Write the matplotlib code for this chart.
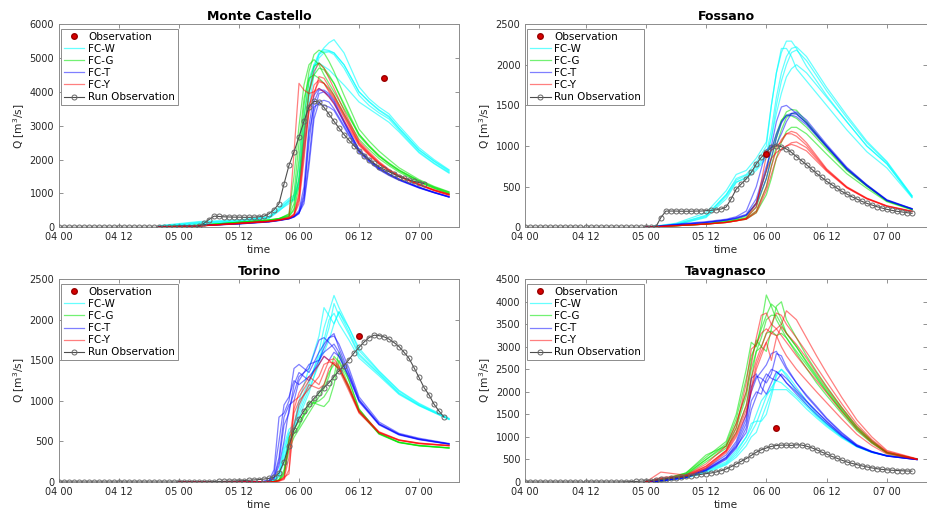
import matplotlib.pyplot as plt
import numpy as np

# x axis: hours counted from "04 00"
tick_hours = [0, 12, 24, 36, 48, 60, 72]
tick_labels = ["04 00", "04 12", "05 00", "05 12", "06 00", "06 12", "07 00"]

# ---------------- Monte Castello ----------------
mc_obs_point = (65, 4400)
mc_run_obs = [0] * 28 + [30, 120, 230, 330, 320, 310, 305, 300, 300, 295, 295, 300, 310,
                         330, 400, 520, 700, 1280, 1830, 2230, 2670, 3130, 3560, 3720, 3700,
                         3540, 3340, 3130, 2930, 2740, 2570, 2410, 2260, 2120, 2000, 1890,
                         1790, 1710, 1640, 1570, 1500, 1450, 1400, 1360, 1320, 1290]
mc_hours = [20, 28, 36, 42, 44, 46, 47, 48, 49, 50, 51, 52, 53, 54,
            55, 57, 60, 62, 64, 66, 68, 72, 75, 78]
mc_fcw = [
    [40, 150, 200, 300, 550, 800, 900, 1400, 2800, 4000, 4700, 5100, 5300, 5450,
     5540, 5150, 4150, 3800, 3550, 3350, 3000, 2350, 2000, 1700],
    [30, 120, 180, 280, 500, 700, 800, 1300, 2600, 3900, 4700, 5100, 5200, 5200,
     5150, 4800, 4000, 3700, 3450, 3250, 2920, 2280, 1950, 1650],
    [20, 100, 160, 260, 480, 750, 850, 1200, 2300, 3600, 4500, 5000, 5150, 5180,
     5100, 4700, 3900, 3600, 3380, 3200, 2870, 2230, 1900, 1620],
    [50, 170, 220, 320, 600, 850, 950, 1800, 3300, 4400, 4800, 4850, 4750, 4650,
     4500, 4200, 3700, 3500, 3300, 3100, 2820, 2200, 1880, 1600],
    [30, 130, 190, 300, 520, 780, 820, 1400, 2800, 4000, 4800, 5150, 5250, 5220,
     5150, 4800, 4000, 3720, 3470, 3280, 2930, 2290, 1960, 1680],
]
mc_fcg = [
    [10, 60, 150, 200, 250, 400, 1500, 3000, 4200, 4800, 4950, 4800, 4500, 4250,
     4000, 3500, 2750, 2400, 2100, 1880, 1680, 1380, 1190, 1040],
    [10, 60, 150, 220, 260, 350, 700, 2000, 3600, 4600, 5100, 5230, 5150, 4900,
     4600, 3900, 2900, 2550, 2250, 2000, 1760, 1410, 1210, 1050],
    [10, 50, 130, 200, 240, 320, 500, 1200, 2800, 4000, 4500, 4700, 4650, 4450,
     4250, 3650, 2750, 2420, 2130, 1900, 1700, 1370, 1180, 1020],
    [10, 50, 140, 210, 250, 330, 550, 1500, 3200, 4300, 4750, 4850, 4700, 4500,
     4250, 3600, 2700, 2380, 2100, 1870, 1670, 1350, 1160, 1000],
    [10, 60, 150, 220, 260, 380, 1000, 2500, 3800, 4400, 4500, 4400, 4250, 4100,
     3900, 3350, 2600, 2300, 2030, 1820, 1630, 1330, 1150, 990],
]
mc_fct = [
    [5, 50, 110, 170, 210, 260, 320, 450, 1000, 2500, 3700, 4050, 4050, 3950,
     3750, 3150, 2300, 2020, 1760, 1580, 1430, 1190, 1040, 910],
    [5, 50, 110, 170, 210, 260, 320, 420, 800, 2000, 3400, 3950, 4000, 3900,
     3700, 3100, 2280, 2000, 1750, 1570, 1420, 1180, 1030, 900],
    [5, 50, 100, 160, 200, 250, 300, 400, 900, 2800, 3550, 3650, 3600, 3550,
     3450, 2950, 2200, 1940, 1700, 1530, 1390, 1160, 1020, 890],
    [5, 50, 110, 170, 210, 260, 330, 500, 1200, 3000, 3900, 4100, 4000, 3850,
     3650, 3100, 2260, 1980, 1740, 1560, 1410, 1175, 1030, 900],
    [5, 50, 100, 160, 200, 250, 310, 430, 700, 1800, 3200, 3700, 3750, 3700,
     3500, 3000, 2240, 1960, 1720, 1550, 1400, 1170, 1025, 895],
]
mc_fcy = [
    [5, 40, 120, 180, 220, 300, 2200, 4250, 4050, 3950, 4000, 4300, 4250, 4000,
     3800, 3250, 2450, 2150, 1880, 1670, 1500, 1260, 1100, 970],
    [5, 40, 120, 180, 220, 280, 400, 1000, 2600, 4000, 4600, 4850, 4700, 4400,
     4100, 3450, 2550, 2230, 1940, 1710, 1530, 1280, 1110, 980],
    [5, 40, 110, 170, 210, 260, 350, 700, 2000, 3500, 4200, 4350, 4250, 4050,
     3850, 3300, 2480, 2170, 1900, 1680, 1510, 1260, 1090, 950],
    [5, 40, 110, 170, 210, 270, 380, 900, 2400, 3600, 4000, 4100, 4000, 3850,
     3650, 3150, 2420, 2130, 1870, 1660, 1490, 1250, 1085, 950],
    [5, 40, 120, 180, 220, 280, 360, 800, 2200, 3400, 3900, 4450, 4400, 4150,
     3900, 3350, 2500, 2190, 1910, 1690, 1520, 1270, 1100, 970],
]

# ---------------- Fossano ----------------
fo_obs_point = (48, 900)
fo_run_obs = [0] * 26 + [5, 120, 200, 200, 200, 198, 198, 198, 200, 200, 205, 210, 215, 225,
                         250, 350, 470, 533, 595, 676, 779, 861, 922, 984, 1004, 992, 963, 922,
                         869, 820, 770, 717, 664, 615, 566, 525, 484, 443, 410, 377, 348, 320,
                         295, 275, 254, 238, 221, 209, 197, 189, 180, 172]
fo_hours = [24, 30, 36, 40, 42, 44, 46, 48, 49, 50, 51, 52, 53, 54, 56, 60, 64, 68, 72, 77]
fo_fcw = [
    [0, 40, 150, 400, 600, 650, 800, 1000, 1500, 1900, 2200, 2200, 2100, 1950, 1800, 1500, 1200, 930, 730, 365],
    [0, 50, 180, 450, 650, 700, 850, 1050, 1500, 1900, 2150, 2290, 2290, 2200, 1980, 1620, 1300, 1000, 780, 380],
    [0, 30, 120, 350, 550, 620, 750, 900, 1200, 1600, 1900, 2100, 2200, 2220, 2100, 1720, 1380, 1060, 810, 390],
    [0, 30, 130, 380, 560, 600, 700, 850, 1100, 1500, 1800, 2000, 2150, 2180, 2050, 1680, 1350, 1040, 800, 385],
    [0, 40, 140, 400, 580, 640, 720, 880, 1100, 1400, 1650, 1850, 1950, 2000, 1900, 1600, 1300, 1000, 780, 370],
]
fo_fcg = [
    [0, 20, 40, 70, 90, 120, 250, 600, 850, 1100, 1300, 1420, 1450, 1440, 1300, 1000, 720, 520, 330, 225],
    [0, 20, 40, 70, 90, 110, 200, 500, 750, 1000, 1200, 1350, 1400, 1400, 1280, 980, 710, 510, 325, 220],
    [0, 20, 40, 60, 80, 100, 180, 400, 600, 850, 1050, 1180, 1230, 1230, 1150, 900, 660, 480, 315, 215],
    [0, 20, 45, 80, 100, 140, 300, 700, 950, 1150, 1320, 1380, 1370, 1340, 1230, 960, 700, 505, 325, 220],
]
fo_fct = [
    [0, 30, 60, 90, 110, 150, 300, 700, 1000, 1300, 1480, 1500, 1450, 1400, 1280, 1000, 730, 520, 335, 230],
    [0, 40, 70, 100, 130, 200, 500, 950, 1000, 1020, 1150, 1300, 1400, 1420, 1320, 1020, 740, 525, 340, 230],
    [0, 30, 60, 90, 110, 150, 280, 600, 850, 1100, 1280, 1380, 1400, 1390, 1290, 1000, 720, 515, 330, 225],
    [0, 30, 60, 90, 120, 160, 350, 750, 950, 1150, 1300, 1370, 1380, 1360, 1260, 990, 715, 510, 330, 225],
]
fo_fcy = [
    [0, 20, 40, 60, 80, 110, 250, 880, 950, 1000, 1050, 1150, 1180, 1160, 1040, 720, 500, 360, 265, 200],
    [0, 20, 40, 60, 80, 100, 200, 500, 750, 950, 1080, 1150, 1150, 1120, 1010, 710, 495, 355, 262, 195],
    [0, 20, 40, 60, 80, 100, 180, 450, 650, 850, 960, 1000, 1040, 1050, 980, 700, 490, 352, 260, 195],
    [0, 20, 40, 60, 80, 110, 300, 700, 850, 920, 960, 1000, 1020, 1000, 940, 690, 485, 350, 258, 192],
]

# ---------------- Torino ----------------
to_obs_point = (60, 1800)
to_run_obs = [0] * 30 + [3, 5, 7, 9, 11, 13, 15, 18, 21, 25, 30, 36, 45, 60, 110, 250, 450, 640,
                         780, 880, 960, 1030, 1100, 1165, 1225, 1300, 1370, 1435, 1510, 1590,
                         1660, 1725, 1780, 1810, 1805, 1790, 1762, 1720, 1670, 1600, 1525, 1410,
                         1290, 1165, 1075, 960, 875, 800]
to_hours = [24, 40, 42, 43, 44, 45, 46, 47, 48, 50, 52, 53, 54, 55, 56, 58, 60, 64, 68, 72, 78]
to_fcw = [
    [0, 0, 5, 20, 100, 400, 600, 650, 900, 1200, 1600, 1900, 2100, 2300, 2150, 1900, 1620, 1360, 1120, 960, 780],
    [0, 0, 5, 15, 80, 300, 500, 700, 1000, 1400, 1800, 2150, 2050, 1950, 2100, 1850, 1580, 1340, 1100, 950, 775],
    [0, 0, 5, 20, 120, 450, 650, 700, 850, 1150, 1450, 1700, 1900, 2200, 2050, 1820, 1560, 1330, 1090, 945, 775],
    [0, 0, 5, 10, 60, 250, 550, 650, 800, 1100, 1500, 1750, 2000, 2080, 1950, 1750, 1530, 1310, 1080, 940, 770],
    [0, 0, 5, 15, 90, 350, 600, 700, 950, 1250, 1550, 1600, 1750, 1950, 2100, 1900, 1650, 1370, 1130, 970, 785],
]
to_fcg = [
    [0, 0, 0, 5, 20, 100, 500, 600, 700, 1000, 950, 930, 1000, 1200, 1500, 1250, 900, 600, 490, 450, 420],
    [0, 0, 0, 5, 30, 150, 550, 650, 750, 900, 1100, 1200, 1350, 1450, 1400, 1150, 870, 590, 485, 445, 418],
    [0, 0, 0, 5, 20, 80, 400, 550, 650, 850, 1050, 1150, 1300, 1550, 1480, 1180, 880, 595, 488, 448, 420],
    [0, 0, 0, 5, 25, 120, 450, 600, 680, 950, 1000, 1050, 1150, 1300, 1600, 1250, 900, 600, 490, 450, 422],
]
to_fct = [
    [0, 0, 20, 150, 800, 850, 1000, 1400, 1450, 1350, 1600, 1700, 1780, 1800, 1700, 1400, 1050, 740, 600, 540, 475],
    [0, 0, 10, 60, 300, 800, 950, 1000, 1250, 1450, 1500, 1650, 1780, 1830, 1650, 1350, 1020, 720, 590, 530, 470],
    [0, 0, 10, 40, 200, 500, 900, 1100, 1300, 1400, 1750, 1780, 1720, 1650, 1550, 1300, 1000, 710, 585, 525, 468],
    [0, 0, 10, 50, 250, 700, 850, 1200, 1350, 1250, 1500, 1600, 1650, 1700, 1600, 1330, 1010, 715, 588, 528, 470],
    [0, 0, 15, 100, 500, 950, 1050, 1250, 1200, 1300, 1450, 1550, 1500, 1600, 1550, 1290, 990, 705, 580, 522, 465],
]
to_fcy = [
    [0, 0, 0, 5, 20, 60, 100, 1000, 1050, 1250, 1450, 1550, 1500, 1450, 1400, 1180, 880, 620, 520, 480, 450],
    [0, 0, 0, 5, 15, 50, 500, 900, 1100, 1300, 1200, 1350, 1500, 1520, 1430, 1150, 860, 610, 515, 475, 448],
    [0, 0, 0, 5, 15, 40, 300, 850, 1000, 1150, 1300, 1450, 1480, 1460, 1380, 1120, 850, 605, 512, 472, 445],
    [0, 0, 0, 5, 10, 30, 150, 700, 950, 1200, 1150, 1200, 1400, 1480, 1420, 1160, 870, 615, 518, 478, 450],
]

# ---------------- Tavagnasco ----------------
ta_obs_point = (50, 1200)
ta_run_obs = [0] * 19 + [2, 5, 8, 12, 18, 25, 32, 45, 60, 72, 85, 98, 110, 122, 138, 155, 170,
                         185, 200, 222, 250, 290, 340, 400, 460, 520, 590, 660, 715, 755, 790,
                         810, 818, 818, 812, 825, 820, 795, 760, 715, 665, 620, 570, 530, 485,
                         445, 415, 385, 358, 335, 313, 295, 280, 270, 261, 255, 249, 244, 240]
ta_hours = [24, 27, 32, 36, 40, 42, 44, 45, 46, 47, 48, 49, 50, 51,
            52, 54, 56, 58, 60, 63, 66, 69, 72, 78]
ta_fcw = [
    [0, 30, 120, 250, 450, 700, 1000, 1300, 1350, 1350, 1500, 1900, 2350, 2500,
     2400, 2100, 1800, 1520, 1300, 1020, 800, 670, 590, 510],
    [0, 25, 100, 220, 400, 600, 900, 1100, 1300, 1600, 1900, 2100, 2250, 2200,
     2100, 1900, 1680, 1460, 1260, 1000, 790, 660, 585, 508],
    [0, 25, 110, 240, 420, 650, 1000, 1200, 1500, 1800, 1950, 2050, 2050, 2050,
     2050, 1850, 1620, 1420, 1230, 980, 780, 655, 582, 506],
    [0, 20, 90, 200, 380, 550, 800, 1000, 1100, 1400, 1700, 2000, 2400, 2500,
     2350, 2000, 1720, 1480, 1280, 1010, 795, 665, 586, 508],
]
ta_fcg = [
    [0, 50, 200, 550, 900, 1500, 2500, 3100, 3000, 3500, 4150, 3900, 3600, 3400,
     3200, 2900, 2600, 2300, 2000, 1580, 1180, 880, 650, 505],
    [0, 40, 180, 500, 850, 1400, 2300, 2800, 3050, 3400, 3700, 3950, 3850, 3600,
     3300, 3000, 2680, 2370, 2060, 1620, 1210, 900, 655, 505],
    [0, 40, 200, 600, 800, 1200, 1900, 2500, 2900, 3200, 3600, 3700, 3700, 3500,
     3300, 3000, 2650, 2330, 2020, 1590, 1190, 885, 650, 505],
    [0, 30, 150, 450, 750, 1100, 1700, 2300, 2900, 3000, 3300, 3350, 3250, 3300,
     3200, 2850, 2520, 2200, 1920, 1520, 1140, 860, 640, 500],
    [0, 30, 160, 500, 800, 1300, 2000, 2700, 3150, 3000, 2900, 3400, 3900, 4000,
     3600, 3200, 2800, 2450, 2120, 1660, 1240, 920, 660, 508],
]
ta_fct = [
    [0, 30, 120, 300, 600, 900, 1500, 2000, 2300, 2450, 2600, 2850, 2900, 2700,
     2500, 2200, 1930, 1680, 1420, 1100, 830, 680, 585, 500],
    [0, 30, 100, 280, 550, 800, 1300, 2100, 2350, 2300, 2200, 2400, 2850, 2800,
     2550, 2200, 1900, 1650, 1400, 1080, 820, 675, 580, 498],
    [0, 20, 90, 250, 500, 750, 1200, 1800, 2000, 1950, 2300, 2500, 2450, 2350,
     2200, 2000, 1780, 1560, 1350, 1050, 805, 668, 578, 498],
    [0, 20, 100, 260, 520, 780, 1100, 1600, 1900, 2200, 2400, 2300, 2250, 2400,
     2300, 2050, 1800, 1570, 1340, 1040, 800, 665, 576, 497],
    [0, 25, 110, 270, 540, 850, 1400, 2300, 2400, 2100, 1950, 2200, 2450, 2350,
     2200, 1950, 1720, 1500, 1300, 1020, 790, 660, 574, 497],
]
ta_fcy = [
    [0, 220, 150, 350, 700, 1200, 2200, 2950, 3050, 3300, 3400, 3300, 3250, 3000,
     2800, 2500, 2250, 2000, 1760, 1400, 1060, 810, 620, 500],
    [0, 100, 150, 400, 800, 1300, 2000, 2600, 3200, 3700, 3750, 3500, 3400, 3250,
     3100, 2800, 2520, 2250, 1980, 1560, 1170, 870, 645, 505],
    [0, 80, 130, 350, 700, 1100, 1700, 2300, 2700, 3000, 3300, 3500, 3750, 3700,
     3500, 3200, 2880, 2550, 2220, 1740, 1290, 940, 680, 510],
    [0, 60, 120, 300, 650, 1000, 1500, 2100, 2600, 2900, 3100, 3300, 3400, 3500,
     3800, 3600, 3200, 2800, 2420, 1880, 1380, 1000, 700, 515],
    [0, 70, 130, 320, 680, 1050, 1600, 2000, 2500, 2800, 3100, 2700, 3200, 3450,
     3300, 3050, 2750, 2420, 2100, 1650, 1230, 910, 660, 505],
]

panels = [
    ("Monte Castello", 6000, 1000, mc_obs_point, mc_run_obs, mc_hours, mc_fcw, mc_fcg, mc_fct, mc_fcy),
    ("Fossano", 2500, 500, fo_obs_point, fo_run_obs, fo_hours, fo_fcw, fo_fcg, fo_fct, fo_fcy),
    ("Torino", 2500, 500, to_obs_point, to_run_obs, to_hours, to_fcw, to_fcg, to_fct, to_fcy),
    ("Tavagnasco", 4500, 500, ta_obs_point, ta_run_obs, ta_hours, ta_fcw, ta_fcg, ta_fct, ta_fcy),
]

# axes boxes in figure fraction (left, bottom, width, height)
positions = [
    [0.0636, 0.556, 0.431, 0.397],
    [0.566, 0.556, 0.433, 0.397],
    [0.0636, 0.0586, 0.431, 0.396],
    [0.566, 0.0586, 0.433, 0.396],
]

fc_styles = [("FC-W", (0.0, 1.0, 1.0), 0.6),
             ("FC-G", (0.0, 0.9, 0.0), 0.55),
             ("FC-T", (0.0, 0.0, 1.0), 0.5),
             ("FC-Y", (1.0, 0.0, 0.0), 0.5)]

plt.rcParams['font.family'] = ['DejaVu Sans']

fig = plt.figure(figsize=(9.28, 5.12), dpi=100)

for pos, panel in zip(positions, panels):
    title, ymax, ystep, obs_point, run_obs, hours, fcw, fcg, fct, fcy = panel
    ax = fig.add_axes(pos)
    handles = []

    h, = ax.plot([obs_point[0]], [obs_point[1]], 'o', color=(0.85, 0.0, 0.0),
                 mec=(0.6, 0.0, 0.0), ms=4, zorder=5, label="Observation")
    handles.append(h)

    for (name, col, alpha), members in zip(fc_styles, [fcw, fcg, fct, fcy]):
        for k, vals in enumerate(members):
            line, = ax.plot(hours, vals, color=col, alpha=alpha, lw=0.9,
                            label=name if k == 0 else None)
            if k == 0:
                handles.append(line)

    run_hours = np.arange(len(run_obs))
    h, = ax.plot(run_hours, run_obs, '-o', color=(0.3, 0.3, 0.3), lw=0.8,
                 ms=3.6, mfc='none', mec=(0.4, 0.4, 0.4), mew=0.7,
                 label="Run Observation", zorder=4)
    handles.append(h)

    ax.set_xlim(0, 80)
    ax.set_ylim(0, ymax)
    ax.set_xticks(tick_hours)
    ax.set_xticklabels(tick_labels)
    ax.set_yticks(np.arange(0, ymax + 1, ystep))
    ax.tick_params(direction='in', length=3, width=0.6, labelsize=7,
                   colors='0.5', labelcolor='0.15', top=True, right=True)
    for sp in ax.spines.values():
        sp.set_color('0.55')
        sp.set_linewidth(0.7)

    ax.set_title(title, fontsize=9, fontweight='bold', pad=3)
    ax.set_xlabel("time", fontsize=7.7, color='0.15', labelpad=2)
    ax.set_ylabel("Q [m$^3$/s]", fontsize=7.7, color='0.15', labelpad=2)

    leg = ax.legend(handles=handles, loc='upper left', bbox_to_anchor=(0.005, 0.975),
                    borderaxespad=0, fontsize=7.5, fancybox=False, framealpha=1,
                    edgecolor='0.55', borderpad=0.25, labelspacing=0.2,
                    handlelength=2.0, handletextpad=0.35)
    leg.get_frame().set_linewidth(0.7)

fig.savefig("out.png", dpi=100)
